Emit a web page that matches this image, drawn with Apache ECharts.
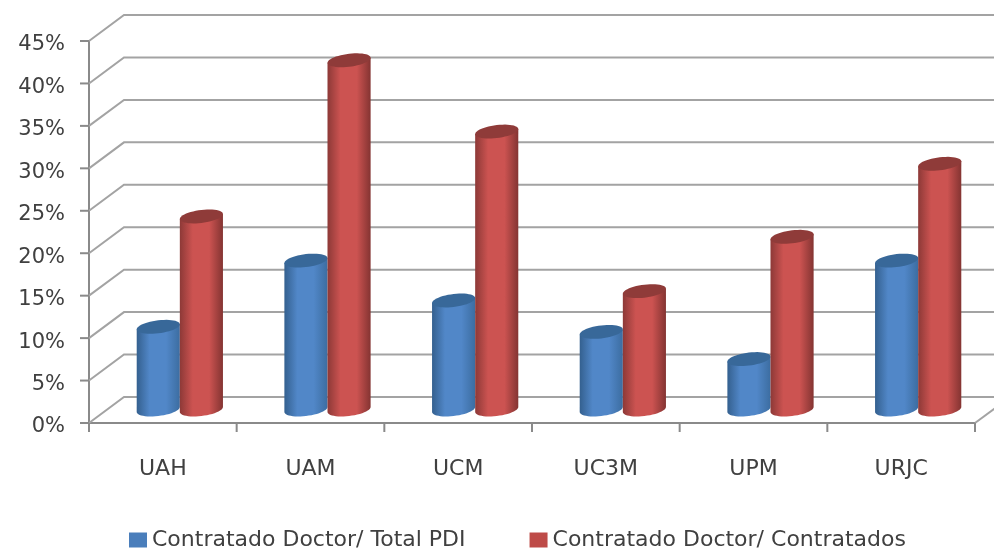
<!DOCTYPE html>
<html>
<head>
<meta charset="utf-8">
<title>Contratado Doctor</title>
<script src="https://cdn.jsdelivr.net/npm/echarts@6/dist/echarts.min.js"></script>
<style>
  html, body { margin: 0; padding: 0; background: #fff; }
  #grafico { width: 994px; height: 552px; }
</style>
</head>
<body>
<div id="grafico"></div>
<script>
const universidades = ['UAH', 'UAM', 'UCM', 'UC3M', 'UPM', 'URJC'];
const totalPdi = [9.8, 17.6, 12.9, 9.2, 6.0, 17.6];
const contratados = [22.8, 41.2, 32.8, 14.0, 20.4, 29.0];
const marcasEje = [0, 5, 10, 15, 20, 25, 30, 35, 40, 45];

const nombreAzul = 'Contratado Doctor/ Total PDI';
const nombreRojo = 'Contratado Doctor/ Contratados';

const fondoX = 35; // desplazamiento de la pared del fondo
const fondoY = -26;
const largoMarca = 9;
const colorRejilla = '#a3a3a3';
const colorEje = '#8a8a8a';
const colorTexto = '#404040';

// elipse ligeramente inclinada, como la del cilindro 3D de Excel
function puntoElipse(cx, cy, rx, ry, t) {
  return [cx + rx * Math.cos(t), cy + ry * Math.sin(t) - 2.5 * Math.cos(t)];
}

function cilindro(lado, colores, api) {
  const indice = api.value(0);
  const valor = api.value(1);
  const arriba = api.coord([indice, valor]);
  const abajo = api.coord([indice, 0]);
  const banda = api.size([1, 0])[0];
  const rx = banda * 0.146;
  const ry = 6.5;
  const cx = arriba[0] + fondoX / 2 - 0.5 + lado * rx;
  const yTop = arriba[1] + fondoY / 2;
  const yBase = abajo[1] + fondoY / 2 - 0.5;

  const cuerpo = [];
  for (let i = 0; i <= 24; i++) {
    cuerpo.push(puntoElipse(cx, yBase, rx, ry, Math.PI - (Math.PI * i) / 24));
  }
  cuerpo.push(puntoElipse(cx, yTop, rx, ry, 0));
  cuerpo.push(puntoElipse(cx, yTop, rx, ry, Math.PI));

  const tapa = [];
  for (let i = 0; i < 48; i++) {
    tapa.push(puntoElipse(cx, yTop, rx, ry, (Math.PI * i) / 24));
  }

  return {
    type: 'group',
    children: [
      {
        type: 'polygon',
        shape: { points: cuerpo },
        style: {
          fill: new echarts.graphic.LinearGradient(0, 0, 1, 0, [
            { offset: 0, color: colores[0] },
            { offset: 0.3, color: colores[1] },
            { offset: 0.68, color: colores[1] },
            { offset: 1, color: colores[2] },
          ]),
        },
      },
      { type: 'polygon', shape: { points: tapa }, style: { fill: colores[3] } },
    ],
  };
}

const azules = ['#34608f', '#5187c8', '#3c6da1', '#386899'];
const rojos = ['#8d3937', '#cc5351', '#843432', '#8f3b39'];

const chart = echarts.init(document.getElementById('grafico'));

chart.setOption({
  backgroundColor: '#fff',
  animation: false,
  textStyle: { fontFamily: 'DejaVu Sans' },
  grid: { left: 89, right: 19, top: 41, bottom: 129 },
  legend: {
    data: [nombreAzul, nombreRojo],
    left: 129,
    top: 529,
    padding: 0,
    icon: 'rect',
    itemWidth: 18,
    itemHeight: 15,
    itemGap: 64,
    textStyle: { fontSize: 22, color: colorTexto },
  },
  xAxis: {
    type: 'category',
    data: universidades,
    axisLine: { lineStyle: { color: colorEje, width: 2 } },
    axisTick: { show: false },
    axisLabel: { fontSize: 22, color: colorTexto, margin: 35 },
    splitLine: { show: false },
  },
  yAxis: {
    type: 'value',
    min: 0,
    max: 45,
    interval: 5,
    axisLine: { show: true, lineStyle: { color: colorEje, width: 2 } },
    axisTick: { show: false },
    axisLabel: {
      margin: 24,
      formatter: '{e|{value}%}',
      rich: { e: { fontSize: 21, color: colorTexto, padding: [8, 0, 0, 0] } },
    },
    splitLine: { show: false },
  },
  series: [
    {
      name: 'rejilla',
      type: 'custom',
      silent: true,
      z: 1,
      data: marcasEje.map((m) => [0, m]),
      renderItem(params, api) {
        const p = api.coord([0, api.value(1)]);
        const banda = api.size([1, 0])[0];
        const izq = p[0] - banda / 2;
        const der = izq + banda * universidades.length;
        const linea = { stroke: colorRejilla, lineWidth: 2, fill: null };
        const marca = { stroke: colorEje, lineWidth: 2 };
        const hijos = [
          {
            type: 'polyline',
            shape: { points: [[izq, p[1]], [izq + fondoX, p[1] + fondoY], [der + fondoX, p[1] + fondoY]] },
            style: linea,
          },
          {
            type: 'rect',
            shape: { x: izq - largoMarca, y: p[1] - 1, width: largoMarca, height: 2 },
            style: { fill: colorEje },
          },
        ];
        if (api.value(1) === 0) {
          hijos.push({
            type: 'line',
            shape: { x1: der, y1: p[1], x2: der + fondoX, y2: p[1] + fondoY },
            style: linea,
          });
          // marcas del eje de categorías, en los límites de cada banda
          for (let i = 0; i <= universidades.length; i++) {
            hijos.push({
              type: 'line',
              shape: { x1: izq + banda * i, y1: p[1], x2: izq + banda * i, y2: p[1] + largoMarca },
              style: marca,
            });
          }
        }
        return { type: 'group', children: hijos };
      },
    },
    {
      name: nombreAzul,
      type: 'custom',
      z: 3,
      itemStyle: { color: '#4a7ebb' },
      data: totalPdi.map((v, i) => [i, v]),
      encode: { x: 0, y: 1 },
      renderItem: (params, api) => cilindro(-1, azules, api),
    },
    {
      name: nombreRojo,
      type: 'custom',
      z: 4,
      itemStyle: { color: '#be4b48' },
      data: contratados.map((v, i) => [i, v]),
      encode: { x: 0, y: 1 },
      renderItem: (params, api) => cilindro(1, rojos, api),
    },
  ],
});
</script>
</body>
</html>
